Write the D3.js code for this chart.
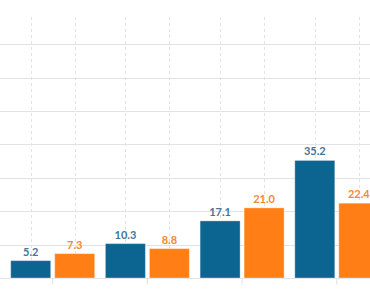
<!DOCTYPE html>
<html>
<head>
<meta charset="utf-8">
<script src="https://cdn.jsdelivr.net/npm/d3@7"></script>
<style>
  html, body { margin: 0; padding: 0; background: #fff; }
  svg { display: block; }
</style>
</head>
<body>
<svg id="chart" width="370" height="300"></svg>
<script>
// Data (visible window of a larger grouped bar chart)
const categories = ["G0", "G1", "G2", "G3", "G4", "G5"];
const seriesNames = ["A", "B"];
const seriesA = [2.0, 5.2, 10.3, 17.1, 35.2, 20.0];
const seriesB = [3.5, 7.3, 8.8, 21.0, 22.4, 20.0];
const yTicks = [0, 10, 20, 30, 40, 50, 60, 70];

const colors = { A: "#0b6590", B: "#ff7f16" };
const labelColors = { A: "#44759a", B: "#f7882f" };

const svg = d3.select("#chart");
const W = 370, H = 300;

const groupStep = 94.7;
const x0Start = -42 - groupStep / 2;
const x = d3.scaleBand()
  .domain(categories)
  .range([x0Start, x0Start + groupStep * categories.length])
  .paddingInner(0).paddingOuter(0);

const xs = d3.scaleBand()
  .domain(seriesNames)
  .range([5.35, 89.35])
  .paddingInner(4 / 44).paddingOuter(0);

const y = d3.scaleLinear().domain([0, 80]).range([278, 278 - 267.2]);

const data = categories.map((c, i) => ({ cat: c, A: seriesA[i], B: seriesB[i] }));

// horizontal gridlines
svg.append("g").selectAll("line")
  .data(yTicks)
  .join("line")
  .attr("x1", 0).attr("x2", W)
  .attr("y1", d => Math.round(y(d)) + 0.5)
  .attr("y2", d => Math.round(y(d)) + 0.5)
  .attr("stroke", "#e3e3e3")
  .attr("stroke-width", 1);

// vertical dashed lines at bar centers
const centers = [];
data.forEach(d => seriesNames.forEach(s => centers.push(x(d.cat) + xs(s) + xs.bandwidth() / 2)));
svg.append("g").selectAll("line")
  .data(centers)
  .join("line")
  .attr("x1", d => Math.round(d) + 0.5).attr("x2", d => Math.round(d) + 0.5)
  .attr("y1", 17).attr("y2", y(0))
  .attr("stroke", "#e2e2e2")
  .attr("stroke-width", 1)
  .attr("stroke-dasharray", "3,3");

// x axis ticks at group centers
const xAxis = d3.axisBottom(x).tickSize(6).tickFormat("");
const gx = svg.append("g").attr("transform", `translate(0,${Math.round(y(0)) + 0.5})`).call(xAxis);
gx.select(".domain").remove();
gx.selectAll(".tick line").attr("stroke", "#e0e0e0");

// bars
const groups = svg.append("g").selectAll("g")
  .data(data)
  .join("g")
  .attr("transform", d => `translate(${x(d.cat)},0)`);

groups.selectAll("rect")
  .data(d => seriesNames.map(s => ({ s, v: d[s] })))
  .join("rect")
  .attr("x", d => xs(d.s))
  .attr("width", xs.bandwidth())
  .attr("y", d => y(d.v))
  .attr("height", d => y(0) - y(d.v))
  .attr("fill", d => colors[d.s])
  .attr("stroke", "rgba(255,255,255,0.35)")
  .attr("stroke-width", 1);

// value labels (only for bars whose centre lies inside the visible window)
groups.selectAll("text")
  .data(d => seriesNames
    .map(s => ({ s, v: d[s], cx: x(d.cat) + xs(s) + xs.bandwidth() / 2 }))
    .filter(e => e.cx >= 0 && e.cx <= W))
  .join("text")
  .attr("x", d => xs(d.s) + xs.bandwidth() / 2)
  .attr("y", d => y(d.v) - 5)
  .attr("text-anchor", "middle")
  .attr("font-family", "Lato, 'Open Sans', sans-serif")
  .attr("font-weight", "bold")
  .attr("font-size", 11)
  .attr("fill", d => labelColors[d.s])
  .text(d => d3.format(".1f")(d.v));
</script>
</body>
</html>
